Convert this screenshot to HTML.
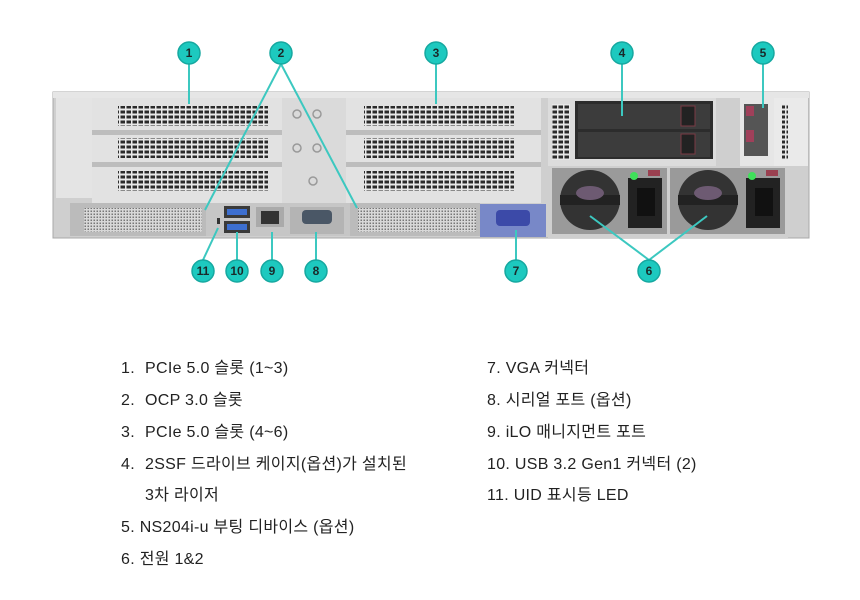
<!DOCTYPE html>
<html><head><meta charset="utf-8"><style>
html,body{margin:0;padding:0;background:#fff;width:860px;height:600px;overflow:hidden}
svg{display:block}
text{font-family:"Liberation Sans","Noto Sans CJK KR",sans-serif}
</style></head><body>
<svg width="860" height="600" viewBox="0 0 860 600" xmlns="http://www.w3.org/2000/svg">
<defs>
<pattern id="grill" width="6" height="5" patternUnits="userSpaceOnUse"><rect width="6" height="5" fill="#e8e8e8"/><rect x="0.5" y="0.5" width="4.5" height="3" fill="#2a2a2a"/></pattern>
<pattern id="mesh" width="3" height="3" patternUnits="userSpaceOnUse"><rect width="3" height="3" fill="#d8d8d8"/><rect x="0.5" y="0.5" width="1.5" height="1.5" fill="#777"/></pattern>
</defs>
<rect x="53" y="92" width="756" height="146" fill="#cfcfcf" stroke="#a8a8a8"/>
<rect x="53" y="92" width="756" height="6" fill="#e6e6e6"/>
<rect x="56" y="98" width="36" height="100" fill="#e4e4e4"/>
<rect x="92" y="98" width="190" height="105" fill="#e2e2e2"/>
<g fill="url(#grill)">
<rect x="118" y="106" width="150" height="20"/>
<rect x="118" y="138" width="150" height="20"/>
<rect x="118" y="171" width="150" height="20"/>
</g>
<rect x="92" y="130" width="190" height="5" fill="#bdbdbd"/>
<rect x="92" y="162" width="190" height="5" fill="#bdbdbd"/>
<rect x="282" y="98" width="64" height="105" fill="#dadada"/>
<g fill="none" stroke="#999" stroke-width="1.5"><circle cx="297" cy="114" r="4"/><circle cx="317" cy="114" r="4"/><circle cx="297" cy="148" r="4"/><circle cx="317" cy="148" r="4"/><circle cx="313" cy="181" r="4"/></g>
<rect x="346" y="98" width="195" height="105" fill="#e2e2e2"/>
<g fill="url(#grill)">
<rect x="364" y="106" width="150" height="20"/>
<rect x="364" y="138" width="150" height="20"/>
<rect x="364" y="171" width="150" height="20"/>
</g>
<rect x="346" y="130" width="195" height="5" fill="#bdbdbd"/>
<rect x="346" y="162" width="195" height="5" fill="#bdbdbd"/>
<rect x="70" y="203" width="136" height="33" fill="#bbb"/>
<rect x="84" y="208" width="118" height="24" fill="url(#mesh)"/>
<rect x="350" y="203" width="130" height="33" fill="#bbb"/>
<rect x="358" y="208" width="118" height="24" fill="url(#mesh)"/>
<rect x="206" y="203" width="144" height="33" fill="#c6c6c6"/>
<rect x="217" y="218" width="3" height="6" fill="#333"/>
<rect x="224" y="206" width="26" height="12" fill="#3a3a3a"/><rect x="227" y="209" width="20" height="6" fill="#3d6fd0"/>
<rect x="224" y="221" width="26" height="12" fill="#3a3a3a"/><rect x="227" y="224" width="20" height="6" fill="#3d6fd0"/>
<rect x="256" y="207" width="28" height="20" fill="#aaa"/><rect x="261" y="211" width="18" height="13" fill="#333"/>
<rect x="290" y="207" width="54" height="27" fill="#b4b4b4"/>
<rect x="302" y="210" width="30" height="14" rx="4" fill="#4a5766"/>
<rect x="480" y="204" width="66" height="33" fill="#7888c8"/>
<rect x="496" y="210" width="34" height="16" rx="4" fill="#3c4aa8"/>
<rect x="548" y="98" width="192" height="68" fill="#dcdcdc"/>
<rect x="552" y="104" width="18" height="56" fill="url(#grill)"/>
<rect x="575" y="101" width="138" height="58" fill="#2c2c2c"/>
<rect x="578" y="104" width="132" height="25" fill="#3c3c3c"/>
<rect x="578" y="132" width="132" height="25" fill="#3c3c3c"/>
<rect x="681" y="106" width="14" height="20" fill="#222" stroke="#7a3a44"/>
<rect x="681" y="134" width="14" height="20" fill="#222" stroke="#7a3a44"/>
<rect x="716" y="98" width="24" height="68" fill="#cfcfcf"/>
<rect x="740" y="98" width="34" height="68" fill="#e6e6e6"/>
<rect x="744" y="104" width="24" height="52" fill="#555"/>
<rect x="746" y="106" width="8" height="10" fill="#a0405a"/><rect x="746" y="130" width="8" height="12" fill="#a0405a"/>
<rect x="774" y="98" width="34" height="68" fill="#eaeaea"/>
<rect x="782" y="104" width="6" height="56" fill="url(#grill)"/>
<rect x="548" y="166" width="240" height="72" fill="#cfcfcf"/>
<g>
<rect x="552" y="168" width="115" height="66" fill="#9a9a9a"/>
<circle cx="590" cy="200" r="30" fill="#333"/>
<rect x="560" y="195" width="60" height="10" fill="#222"/>
<ellipse cx="590" cy="193" rx="14" ry="7" fill="#6d5a72"/>
<rect x="628" y="178" width="34" height="50" fill="#222"/>
<rect x="637" y="188" width="18" height="28" fill="#111"/>
<circle cx="634" cy="176" r="4" fill="#3fe05a"/>
<rect x="648" y="170" width="12" height="6" fill="#9a4050"/>
</g>
<g>
<rect x="670" y="168" width="115" height="66" fill="#9a9a9a"/>
<circle cx="708" cy="200" r="30" fill="#333"/>
<rect x="678" y="195" width="60" height="10" fill="#222"/>
<ellipse cx="708" cy="193" rx="14" ry="7" fill="#6d5a72"/>
<rect x="746" y="178" width="34" height="50" fill="#222"/>
<rect x="755" y="188" width="18" height="28" fill="#111"/>
<circle cx="752" cy="176" r="4" fill="#3fe05a"/>
<rect x="766" y="170" width="12" height="6" fill="#9a4050"/>
</g>
<g stroke="#3cc8c0" stroke-width="2" fill="none">
<line x1="189" y1="64" x2="189" y2="104"/>
<line x1="281" y1="64" x2="205" y2="210"/>
<line x1="281" y1="64" x2="357" y2="208"/>
<line x1="436" y1="64" x2="436" y2="104"/>
<line x1="622" y1="64" x2="622" y2="116"/>
<line x1="763" y1="64" x2="763" y2="108"/>
<line x1="649" y1="260" x2="590" y2="216"/>
<line x1="649" y1="260" x2="707" y2="216"/>
<line x1="516" y1="260" x2="516" y2="230"/>
<line x1="316" y1="260" x2="316" y2="232"/>
<line x1="272" y1="260" x2="272" y2="232"/>
<line x1="237" y1="260" x2="237" y2="232"/>
<line x1="203" y1="260" x2="218" y2="228"/>
</g>
<g fill="#1dc9bf" stroke="#16a8a0" stroke-width="1.5">
<circle cx="189" cy="53" r="11"/><circle cx="281" cy="53" r="11"/><circle cx="436" cy="53" r="11"/><circle cx="622" cy="53" r="11"/><circle cx="763" cy="53" r="11"/>
<circle cx="203" cy="271" r="11"/><circle cx="237" cy="271" r="11"/><circle cx="272" cy="271" r="11"/><circle cx="316" cy="271" r="11"/><circle cx="516" cy="271" r="11"/><circle cx="649" cy="271" r="11"/>
</g>
<g font-size="12" font-weight="bold" fill="#1a2a2a" text-anchor="middle">
<text x="189" y="57">1</text><text x="281" y="57">2</text><text x="436" y="57">3</text><text x="622" y="57">4</text><text x="763" y="57">5</text>
<text x="203" y="275">11</text><text x="237" y="275">10</text><text x="272" y="275">9</text><text x="316" y="275">8</text><text x="516" y="275">7</text><text x="649" y="275">6</text>
</g>
<g font-size="16" fill="#222" letter-spacing="0.3">
<text x="121" y="373">1.</text><text x="145" y="373">PCIe 5.0 슬롯 (1~3)</text>
<text x="121" y="405">2.</text><text x="145" y="405">OCP 3.0 슬롯</text>
<text x="121" y="437">3.</text><text x="145" y="437">PCIe 5.0 슬롯 (4~6)</text>
<text x="121" y="469">4.</text><text x="145" y="469">2SSF 드라이브 케이지(옵션)가 설치된</text>
<text x="145" y="500">3차 라이저</text>
<text x="121" y="532">5. NS204i-u 부팅 디바이스 (옵션)</text>
<text x="121" y="564">6. 전원 1&amp;2</text>
<text x="487" y="373">7. VGA 커넥터</text>
<text x="487" y="405">8. 시리얼 포트 (옵션)</text>
<text x="487" y="437">9. iLO 매니지먼트 포트</text>
<text x="487" y="469">10. USB 3.2 Gen1 커넥터 (2)</text>
<text x="487" y="500">11. UID 표시등 LED</text>
</g>
</svg>
</body></html>
